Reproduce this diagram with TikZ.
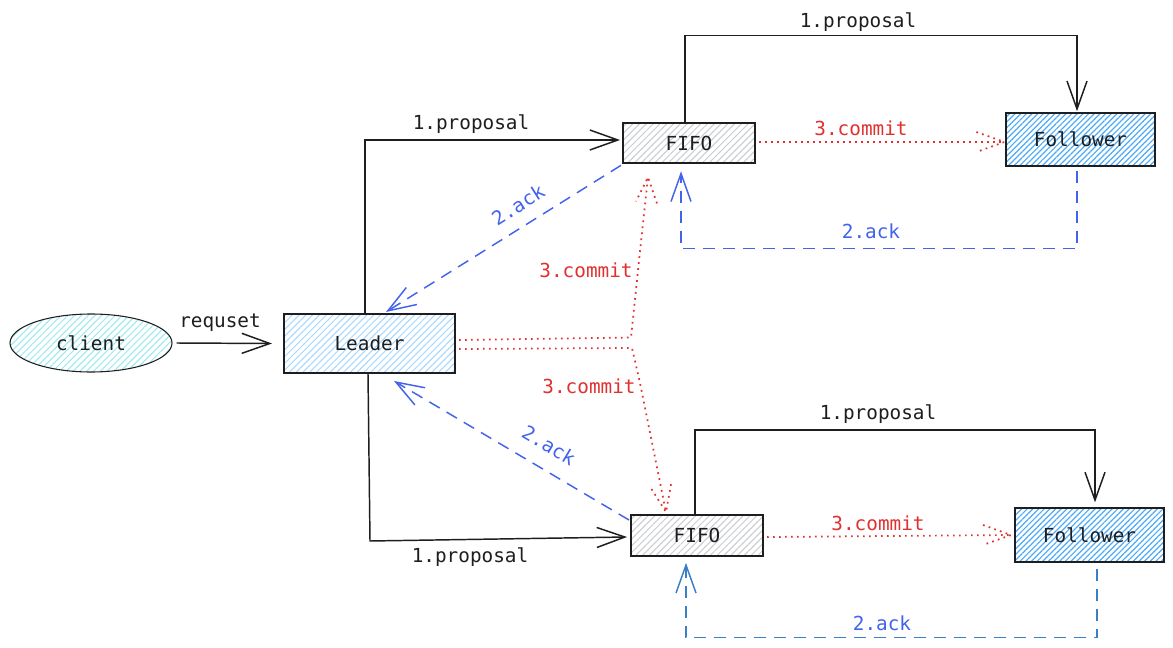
\documentclass[tikz,border=0pt]{standalone}
\usepackage{fontspec}
\setmonofont{DejaVu Sans Mono}
\usetikzlibrary{arrows.meta,patterns.meta,calc,shapes.geometric}
\definecolor{ink}{HTML}{1E1E1E}
\definecolor{cred}{HTML}{E03131}
\definecolor{cblue}{HTML}{4263EB}
\definecolor{cblue2}{HTML}{3A7FC4}
\definecolor{hleader}{HTML}{A5D8FF}
\definecolor{hfollow}{HTML}{4DABF7}
\definecolor{hfifo}{HTML}{C8CCD0}
\definecolor{hclient}{HTML}{99E9F2}
\tikzset{
  boxbase/.style={draw=ink, line width=1.5pt, inner sep=0pt, text=ink},
  leaderbox/.style={boxbase, minimum width=128.25pt, minimum height=44.25pt,
    pattern={Lines[angle=45,distance=3.6pt,line width=0.75pt]}, pattern color=hleader},
  followbox/.style={boxbase, minimum width=111.75pt, minimum height=40pt,
    pattern={Lines[angle=45,distance=3pt,line width=0.9pt]}, pattern color=hfollow},
  fifobox/.style={boxbase, minimum width=99pt, minimum height=30.5pt,
    pattern={Lines[angle=45,distance=3.6pt,line width=0.75pt]}, pattern color=hfifo},
  clientshape/.style={ellipse, draw=ink, line width=0.8pt, inner sep=0pt, text=ink,
    minimum width=121.5pt, minimum height=43.5pt,
    pattern={Lines[angle=45,distance=3.6pt,line width=0.75pt]}, pattern color=hclient},
  barb/.tip={Straight Barb[length=21pt,width=15pt]},
  prop/.style={draw=ink, line width=1.1pt, -barb},
  ack/.style={draw=cblue, line width=1.1pt, dash pattern=on 9pt off 6pt, -barb},
  acktwo/.style={draw=cblue2, line width=1.1pt, dash pattern=on 9pt off 6pt, -barb},
  commit/.style={draw=cred, line width=1.3pt, dash pattern=on 1.3pt off 3.2pt},
  lblk/.style={text=ink},
  lred/.style={text=cred},
  lblue/.style={text=cblue},
}
\begin{document}
\begin{tikzpicture}[x=0.75pt,y=-0.75pt,font=\ttfamily\fontsize{14.5pt}{17pt}\selectfont]
\useasboundingbox (0,0) rectangle (1173,648);
\fill[white] (0,0) rectangle (1173,648);
% nodes
\node[clientshape] (client) at (91,343) {client};
\node[leaderbox] (lead) at (369.5,343.5) {Leader};
\node[fifobox] (ff1) at (689,143) {FIFO};
\node[followbox] (fo1) at (1080.5,139.5) {Follower};
\node[fifobox] (ff2) at (697,535.5) {FIFO};
\node[followbox] (fo2) at (1089.5,535) {Follower};
% bend coordinates
\coordinate (b1) at (370,541);
\coordinate (c1) at (631,337.5);
\coordinate (c2) at (632,348);
\coordinate (t1) at ($(ff1.south)+(-41,13)$);
\coordinate (t2) at ($(ff2.north)+(-31,-2)$);
\coordinate (t3) at ($(fo1.west)+(-1,2.5)$);
\coordinate (t4) at ($(fo2.west)+(-3,0)$);
% request
\draw[prop] ($(client.east)+(4,0)$) -- ($(lead.west)+(-11,0)$);
\node[lblk] (lreq) at (220,323) {requset};
% proposals
\draw[prop] ($(lead.north)+(-4.5,0)$) |- ($(ff1.west)+(-2,-3)$);
\node[lblk] (lp1) at (471,124) {1.proposal};
\draw[prop] ($(lead.south)+(-1.5,0)$) -- (b1) -- ($(ff2.west)+(-3,1.5)$);
\node[lblk] (lp2) at (470,557) {1.proposal};
\draw[prop] ($(ff1.north)+(-4,0)$) -- ++(0,-86) -| ($(fo1.north)+(-3.5,-1)$);
\node[lblk] (lp3) at (858,22) {1.proposal};
\draw[prop] ($(ff2.north)+(-2,0)$) -- ++(0,-84) -| ($(fo2.north)+(5.5,-5)$);
\node[lblk] (lp4) at (878,414) {1.proposal};
% acks
\draw[ack] ($(fo1.south)+(-3.5,4)$) -- ++(0,78) -| ($(ff1.south)+(-8,7)$);
\node[lblue] (la1) at (871,231) {2.ack};
\draw[acktwo] ($(fo2.south)+(7.5,6)$) -- ++(0,69) -| ($(ff2.south)+(-11,6)$);
\node[lblue] (la2) at (882,623) {2.ack};
\draw[ack] ($(ff1.south west)+(-1,1)$) -- ($(lead.north)+(16.5,-1)$);
\node[lblue, rotate=32.3] (la3) at (518,205) {2.ack};
\draw[ack] ($(ff2.west)+(-1,-15.5)$) -- ($(lead.south)+(24.5,7)$);
\node[lblue, rotate=-30.7] (la4) at (549,445) {2.ack};
% commits
\draw[commit] ($(lead.east)+(3,-3.5)$) -- (c1) .. controls (635,300) and (641,240) .. (t1);
\draw[commit] ($(t1)+(9,26)$) -- (t1) -- ($(t1)+(-12,24)$);
\node[lred] (lc1) at (586,270) {3.commit};
\draw[commit] ($(lead.east)+(3,5.5)$) -- (c2) -- (640,383) -- (t2);
\draw[commit] ($(t2)+(5,-28)$) -- (t2) -- ($(t2)+(-15,-24)$);
\node[lred] (lc2) at (589,386) {3.commit};
\draw[commit] ($(ff1.east)+(3,-1)$) -- (t3);
\draw[commit] ($(t3)+(-28,-10)$) -- (t3) -- ($(t3)+(-28,10)$);
\node[lred] (lc3) at (861,128) {3.commit};
\draw[commit] ($(ff2.east)+(3,1.5)$) -- (t4);
\draw[commit] ($(t4)+(-28,-10)$) -- (t4) -- ($(t4)+(-28,10)$);
\node[lred] (lc4) at (878,523) {3.commit};
\end{tikzpicture}
\end{document}
